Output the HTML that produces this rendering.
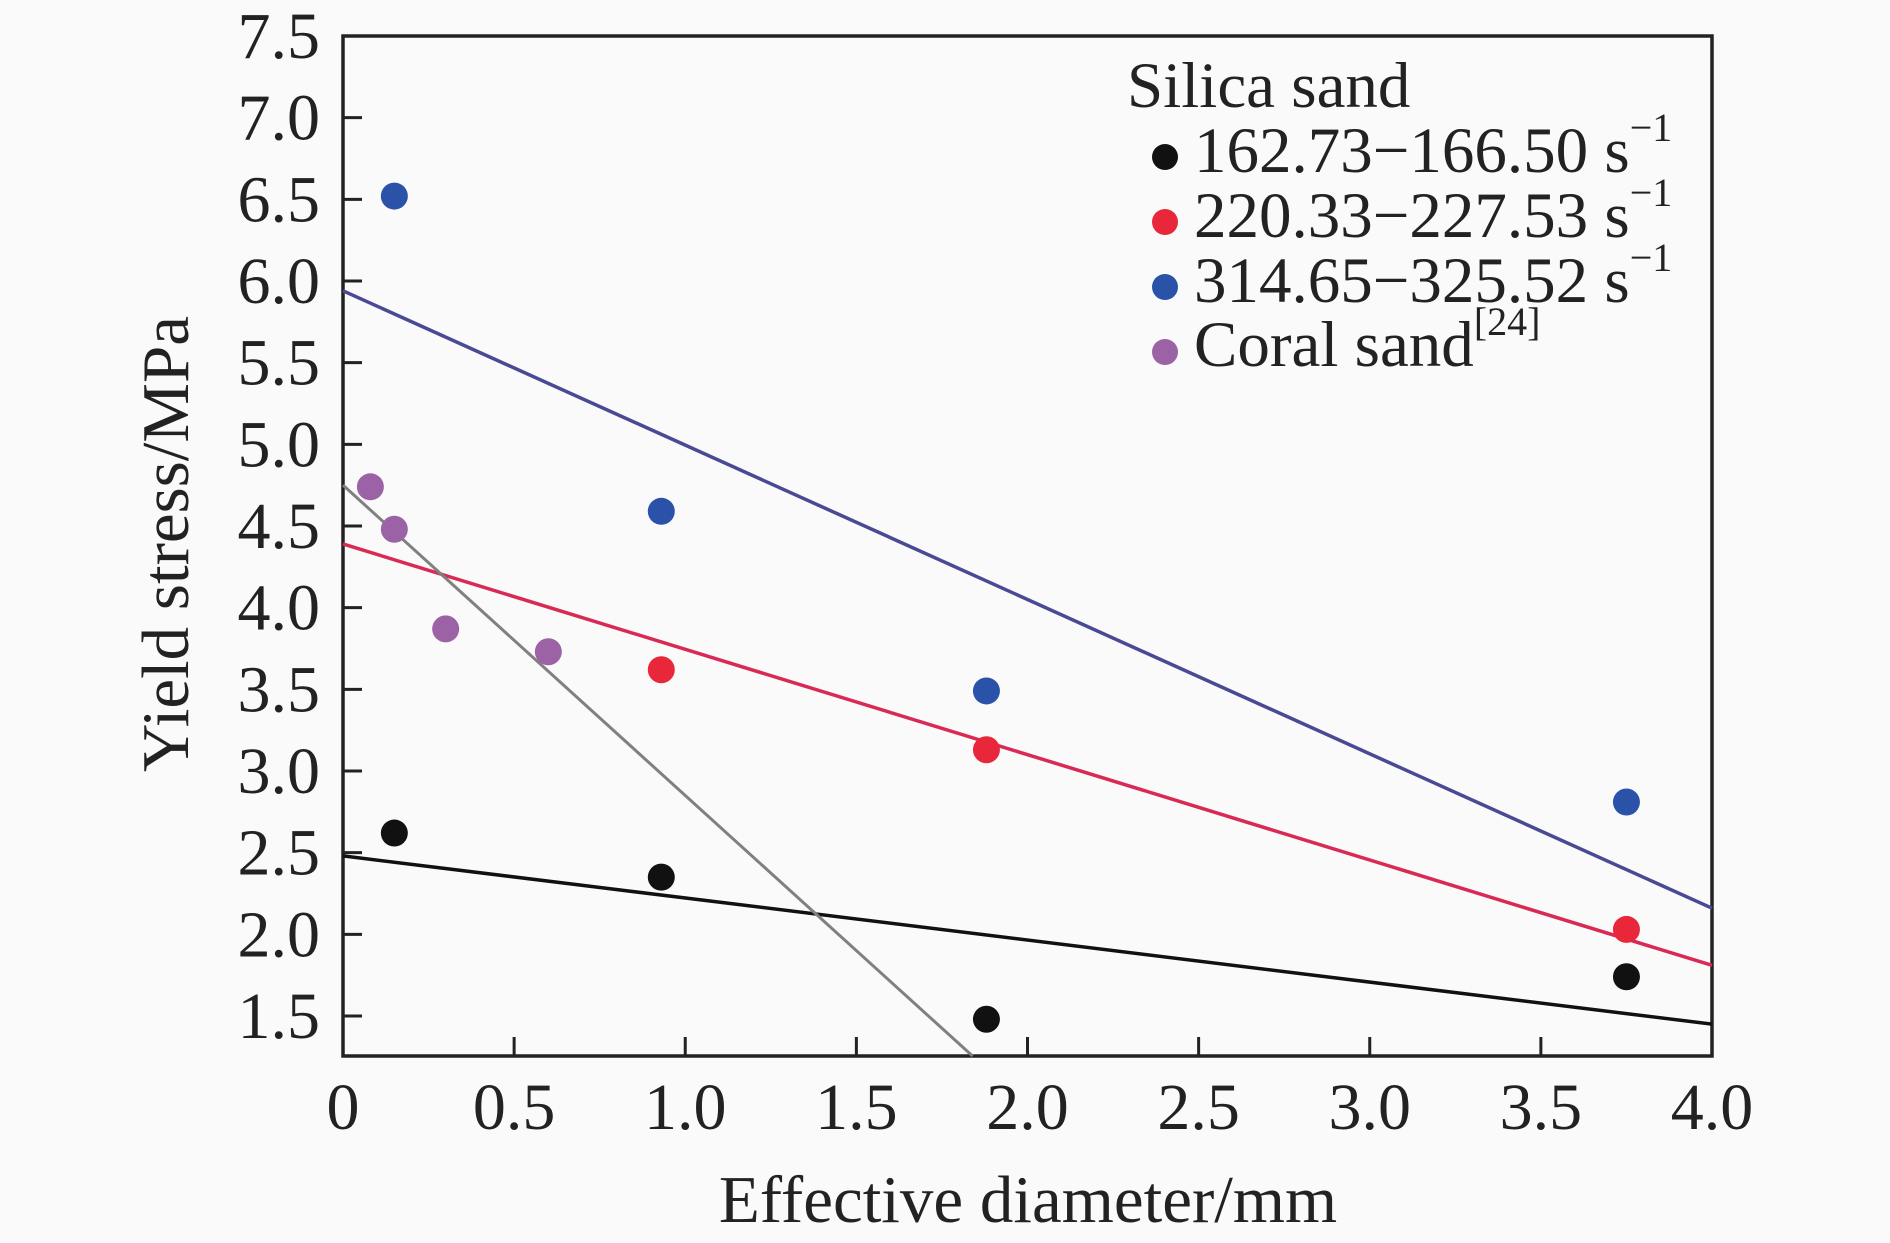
<!DOCTYPE html>
<html><head><meta charset="utf-8"><style>
html,body{margin:0;padding:0;background:#fafafa;}
svg{display:block;font-family:"Liberation Serif",serif;}
</style></head><body>
<svg id="chart" width="1890" height="1243" viewBox="0 0 1890 1243" xmlns="http://www.w3.org/2000/svg">
<rect width="1890" height="1243" fill="#fafafa"/>
<g id="plot"></g>
<text x="1028" y="1222" font-size="67" text-anchor="middle" fill="#222">Effective diameter/mm</text>
<text transform="translate(188,544) rotate(-90)" font-size="67" text-anchor="middle" fill="#222">Yield stress/MPa</text>
<g font-size="65" fill="#222">
<text x="1127" y="107">Silica sand</text>
<circle cx="1165" cy="157" r="13" fill="#111"/>
<text x="1194" y="172">162.73−166.50 s<tspan font-size="40" dy="-31">−1</tspan></text>
<circle cx="1165" cy="222" r="13" fill="#e8283a"/>
<text x="1194" y="237">220.33−227.53 s<tspan font-size="40" dy="-31">−1</tspan></text>
<circle cx="1165" cy="287" r="13" fill="#2a52a8"/>
<text x="1194" y="302">314.65−325.52 s<tspan font-size="40" dy="-31">−1</tspan></text>
<circle cx="1165" cy="352" r="13" fill="#9c62a6"/>
<text x="1194" y="366">Coral sand<tspan font-size="40" dy="-31">[24]</tspan></text>
</g>
</svg>
<script>
const xTicks = [0,0.5,1.0,1.5,2.0,2.5,3.0,3.5,4.0];
const xTickLabels = ["0","0.5","1.0","1.5","2.0","2.5","3.0","3.5","4.0"];
const yTicks = [1.5,2.0,2.5,3.0,3.5,4.0,4.5,5.0,5.5,6.0,6.5,7.0,7.5];
const yTickLabels = ["1.5","2.0","2.5","3.0","3.5","4.0","4.5","5.0","5.5","6.0","6.5","7.0","7.5"];
const blackX = [0.15,0.93,1.88,3.75];
const blackY = [2.62,2.35,1.48,1.74];
const redX = [0.93,1.88,3.75];
const redY = [3.62,3.13,2.03];
const blueX = [0.15,0.93,1.88,3.75];
const blueY = [6.52,4.59,3.49,2.81];
const coralX = [0.08,0.15,0.30,0.60];
const coralY = [4.74,4.48,3.87,3.73];
const blackFit = [2.48,1.45];   // values at x=0 and x=4
const redFit = [4.39,1.81];
const blueFit = [5.94,2.16];
const coralFit = [4.75,-1.90];  // intercept, slope

const X0=343,X1=1712,Y0=1056,Y1=36,xmin=0,xmax=4,ymin=1.255,ymax=7.5;
const sx=v=>X0+(v-xmin)/(xmax-xmin)*(X1-X0);
const sy=v=>Y0-(v-ymin)/(ymax-ymin)*(Y0-Y1);
const NS="http://www.w3.org/2000/svg";
const g=document.getElementById('plot');
function mk(t,a){const e=document.createElementNS(NS,t);for(const k in a)e.setAttribute(k,a[k]);g.appendChild(e);return e;}

let fr=mk('rect',{x:X0,y:Y1,width:X1-X0,height:Y0-Y1,fill:'none',stroke:'#222','stroke-width':3.5});



xTicks.forEach((v,i)=>{
  const l=mk('line',{x1:sx(v),x2:sx(v),y1:Y0,y2:Y0-19,stroke:'#222','stroke-width':3});
  
  
  const t=mk('text',{x:sx(v),y:1129,'font-size':66,'text-anchor':'middle',fill:'#222'});
  t.textContent=xTickLabels[i];
  
  
});
yTicks.forEach((v,i)=>{
  if(v<7.5){
    const l=mk('line',{x1:X0,x2:X0+19,y1:sy(v),y2:sy(v),stroke:'#222','stroke-width':3});
    
    
  }
  const t=mk('text',{x:320,y:sy(v)+22,'font-size':66,'text-anchor':'end',fill:'#222'});
  t.textContent=yTickLabels[i];
  
  
});

function fit(vals,color,name){
  const l=mk('line',{x1:sx(0),y1:sy(vals[0]),x2:sx(4),y2:sy(vals[1]),stroke:color,'stroke-width':3.5});
  
  
}
fit(blackFit,'#111','fit-line-black');
fit(redFit,'#d82a55','fit-line-red');
fit(blueFit,'#4a4a94','fit-line-blue');
const xEnd=Math.min(4,(ymin-coralFit[0])/coralFit[1]);
const cl=mk('line',{x1:sx(0),y1:sy(coralFit[0]),x2:sx(xEnd),y2:sy(coralFit[0]+coralFit[1]*xEnd),stroke:'#808080','stroke-width':3});



function pts(xs,ys,color,name){
  xs.forEach((x,i)=>{
    const c=mk('circle',{cx:sx(x),cy:sy(ys[i]),r:13.5,fill:color});
    
    
  });
}
pts(coralX,coralY,'#9c62a6','point-coral');
pts(blackX,blackY,'#111','point-black');
pts(redX,redY,'#e8283a','point-red');
pts(blueX,blueY,'#2a52a8','point-blue');
</script>
</body></html>
